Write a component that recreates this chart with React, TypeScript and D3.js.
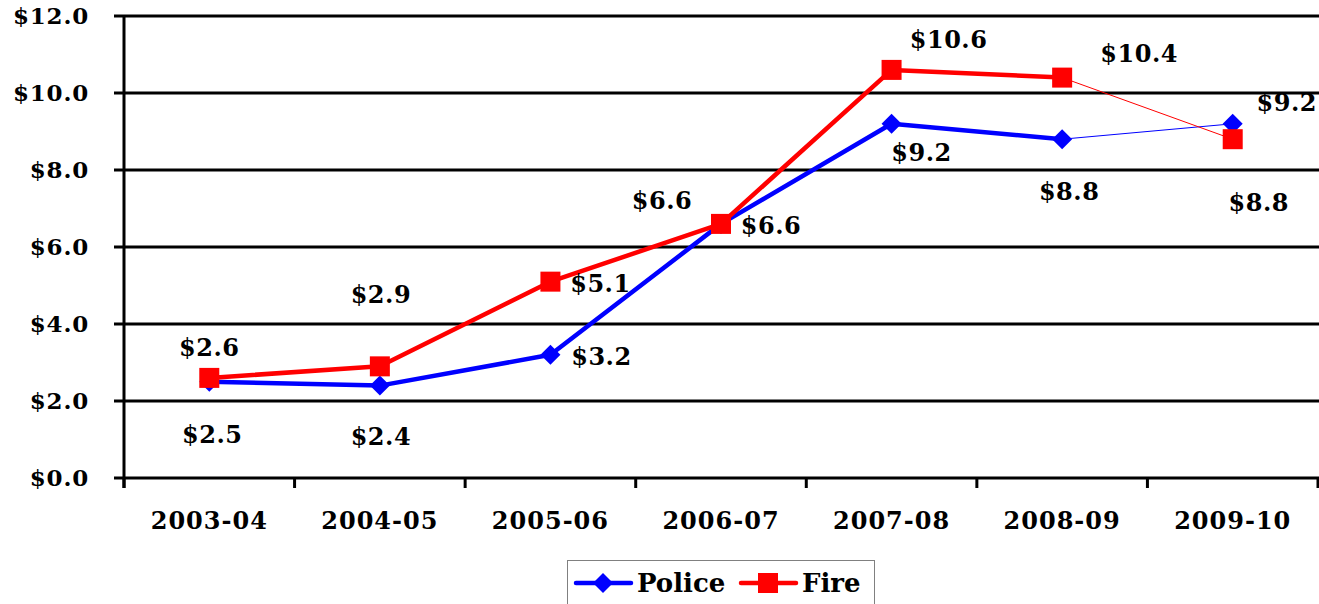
import React from "react";
import * as d3 from "d3";

const categories = ["2003-04", "2004-05", "2005-06", "2006-07", "2007-08", "2008-09", "2009-10"];
const policeValues = [2.5, 2.4, 3.2, 6.6, 9.2, 8.8, 9.2];
const fireValues = [2.6, 2.9, 5.1, 6.6, 10.6, 10.4, 8.8];
const yTicks = [0, 2, 4, 6, 8, 10, 12];

// label placement offsets (text centre relative to the point)
const policeLabelOffsets: [number, number][] = [[3, 53], [1, 51], [51, 2], [50, 2], [30, 29], [7, 52], [54, -21]];
const fireLabelOffsets: [number, number][] = [[0, -30], [1, -72], [50, 2], [-59, -23], [57, -30], [77, -24], [26, 63]];

const W = 1319;
const H = 604;
const margin = { left: 124, right: 1318, top: 16, bottom: 478 };
const FONT = "'DejaVu Serif', Georgia, serif";

export default function App() {
  const x = d3.scaleBand<string>().domain(categories).range([margin.left, margin.right]);
  const y = d3.scaleLinear().domain([0, 12]).range([margin.bottom, margin.top]);
  const cx = (c: string) => (x(c) as number) + x.bandwidth() / 2;
  const fmt = (v: number) => "$" + v.toFixed(1);

  const series = [
    { name: "Police", values: policeValues, color: "#0000FF", marker: "diamond", offsets: policeLabelOffsets },
    { name: "Fire", values: fireValues, color: "#FF0000", marker: "square", offsets: fireLabelOffsets },
  ];

  const marker = (kind: string, px: number, py: number, color: string, key: string) =>
    kind === "diamond" ? (
      <path key={key} d={`M${px},${py - 10}L${px + 10},${py}L${px},${py + 10}L${px - 10},${py}Z`} fill={color} />
    ) : (
      <rect key={key} x={px - 10} y={py - 10} width={20} height={20} fill={color} />
    );

  const boundaries = d3.range(categories.length + 1).map((i) => margin.left + i * x.step());

  return (
    <svg width={W} height={H} style={{ position: "absolute", left: 0, top: 0, background: "#fff" }}>
      {/* gridlines and y ticks */}
      {yTicks.map((t) => (
        <g key={t}>
          <line x1={margin.left - 10} x2={W} y1={y(t)} y2={y(t)} stroke="#000" strokeWidth={3} />
          <text
            x={89}
            y={y(t)}
            dy="0.35em"
            textAnchor="end"
            fontFamily={FONT}
            fontWeight="bold"
            fontSize={23}
            letterSpacing={0.8}
          >
            {fmt(t)}
          </text>
        </g>
      ))}
      {/* y axis */}
      <line x1={margin.left} x2={margin.left} y1={margin.top} y2={margin.bottom + 10} stroke="#000" strokeWidth={3} />
      {/* x ticks */}
      {boundaries.map((bx, i) => (
        <line key={i} x1={bx} x2={bx} y1={margin.bottom} y2={margin.bottom + 10} stroke="#000" strokeWidth={3} />
      ))}
      {categories.map((c) => (
        <text key={c} x={cx(c)} y={521} dy="0.35em" textAnchor="middle" fontFamily={FONT} fontWeight="bold" fontSize={24} letterSpacing={1}>
          {c}
        </text>
      ))}
      {/* series lines: last segment drawn thin */}
      {series.map((s) => (
        <g key={s.name}>
          {s.values.slice(1).map((v, i) => {
            const thin = i === s.values.length - 2;
            return (
              <line
                key={i}
                x1={cx(categories[i])}
                y1={y(s.values[i])}
                x2={cx(categories[i + 1])}
                y2={y(v)}
                stroke={s.color}
                strokeWidth={thin ? 1 : 4.5}
                strokeLinecap="round"
              />
            );
          })}
        </g>
      ))}
      {series.map((s) =>
        s.values.map((v, i) => marker(s.marker, cx(categories[i]), y(v), s.color, s.name + i))
      )}
      {/* data labels */}
      {series.map((s) =>
        s.values.map((v, i) => (
          <text
            key={s.name + "l" + i}
            x={cx(categories[i]) + s.offsets[i][0]}
            y={y(v) + s.offsets[i][1]}
            dy="0.35em"
            textAnchor="middle"
            fontFamily={FONT}
            fontWeight="bold"
            fontSize={24}
            letterSpacing={0.5}
          >
            {fmt(v)}
          </text>
        ))
      )}
      {/* legend */}
      <g>
        <rect x={567.5} y={560.5} width={307} height={50} fill="#fff" stroke="#808080" strokeWidth={1} />
        <line x1={576} x2={631} y1={583} y2={583} stroke="#0000FF" strokeWidth={4.5} strokeLinecap="round" />
        {marker("diamond", 603, 583, "#0000FF", "lgp")}
        <text x={637} y={583} dy="0.35em" fontFamily={FONT} fontWeight="bold" fontSize={26}>
          Police
        </text>
        <line x1={741} x2={796} y1={583} y2={583} stroke="#FF0000" strokeWidth={4.5} strokeLinecap="round" />
        {marker("square", 768, 583, "#FF0000", "lgf")}
        <text x={802} y={583} dy="0.35em" fontFamily={FONT} fontWeight="bold" fontSize={26}>
          Fire
        </text>
      </g>
    </svg>
  );
}
